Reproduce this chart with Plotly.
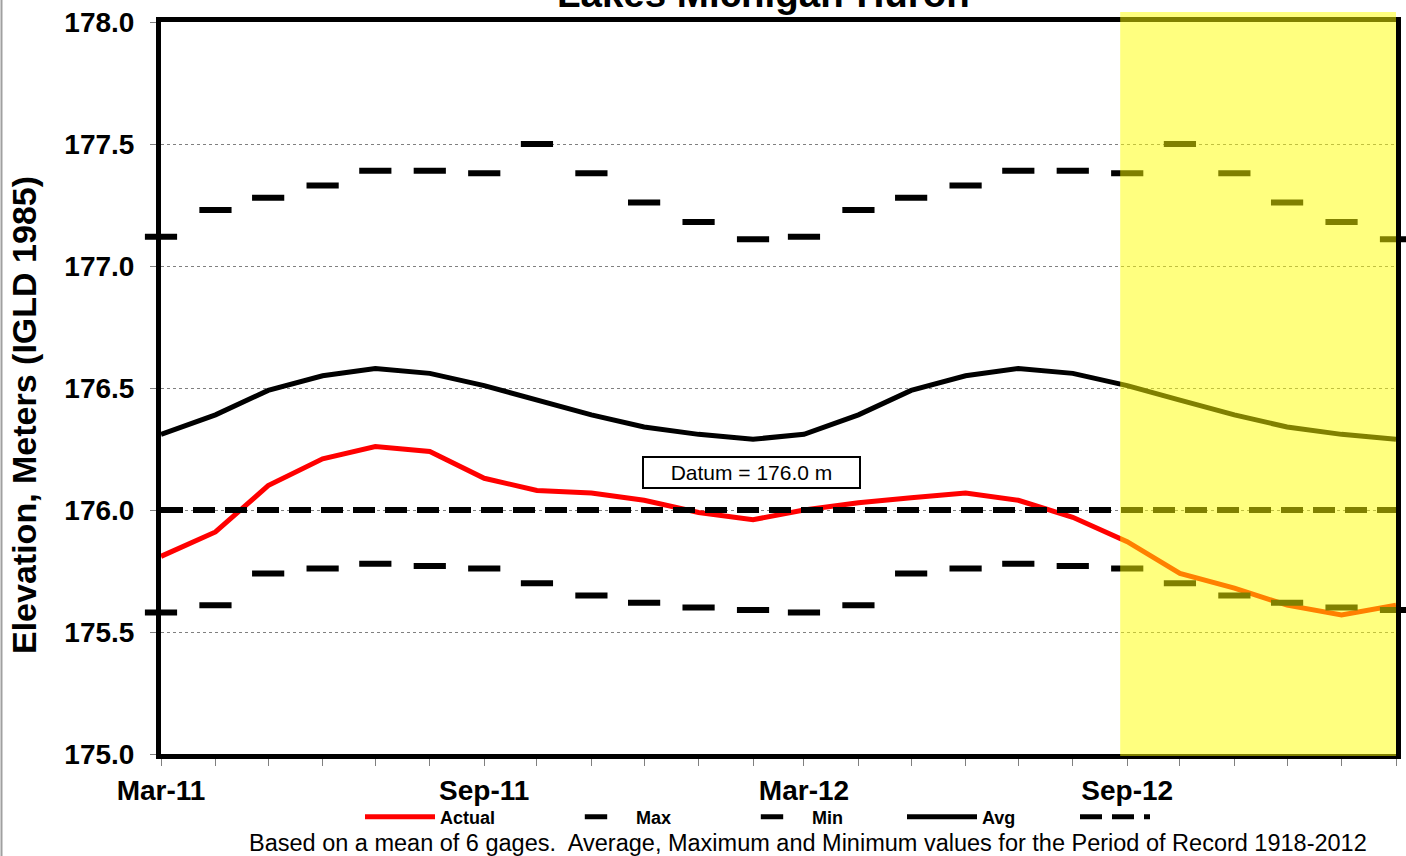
import plotly.graph_objects as go

months = ["2011-03-01", "2011-04-01", "2011-05-01", "2011-06-01", "2011-07-01", "2011-08-01",
          "2011-09-01", "2011-10-01", "2011-11-01", "2011-12-01", "2012-01-01", "2012-02-01",
          "2012-03-01", "2012-04-01", "2012-05-01", "2012-06-01", "2012-07-01", "2012-08-01",
          "2012-09-01", "2012-10-01", "2012-11-01", "2012-12-01", "2013-01-01", "2013-02-01"]

actual = [175.81, 175.91, 176.10, 176.21, 176.26, 176.24, 176.13, 176.08, 176.07, 176.04, 175.99, 175.96,
          176.00, 176.03, 176.05, 176.07, 176.04, 175.97, 175.87, 175.74, 175.68, 175.61, 175.57, 175.61]

max_vals = [177.12, 177.23, 177.28, 177.33, 177.39, 177.39, 177.38, 177.50, 177.38, 177.26, 177.18, 177.11,
            177.12, 177.23, 177.28, 177.33, 177.39, 177.39, 177.38, 177.50, 177.38, 177.26, 177.18, 177.11]

min_vals = [175.58, 175.61, 175.74, 175.76, 175.78, 175.77, 175.76, 175.70, 175.65, 175.62, 175.60, 175.59,
            175.58, 175.61, 175.74, 175.76, 175.78, 175.77, 175.76, 175.70, 175.65, 175.62, 175.60, 175.59]

avg_vals = [176.31, 176.39, 176.49, 176.55, 176.58, 176.56, 176.51, 176.45, 176.39, 176.34, 176.31, 176.29,
            176.31, 176.39, 176.49, 176.55, 176.58, 176.56, 176.51, 176.45, 176.39, 176.34, 176.31, 176.29]

datum_level = 176.0
datum_x = [months[0], months[-1]]
datum_y = [datum_level, datum_level]

forecast_start = "2012-08-28"
forecast_end = "2013-02-01"

title_text = "Lakes Michigan-Huron"
y_title = "Elevation, Meters (IGLD 1985)"
datum_label = "Datum = 176.0 m"
footnote = "Based on a mean of 6 gages.&nbsp; Average, Maximum and Minimum values for the Period of Record 1918-2012"

FONT = "Liberation Sans, Arial, sans-serif"

W, H = 1406, 856
L, R, T, B = 161, 10, 22, 856 - 754
PW = W - L - R
PH = H - T - B


def px_x(px):
    """screen x (pixels) -> paper x"""
    return (px - L) / PW


def px_y(py):
    """screen y (pixels) -> paper y"""
    return (H - B - py) / PH


fig = go.Figure()

fig.add_trace(go.Scatter(x=months, y=actual, mode="lines", name="Actual",
                         line=dict(color="#ff0000", width=5), legend="legend"))
fig.add_trace(go.Scatter(x=months, y=max_vals, mode="markers", name="Max", cliponaxis=False,
                         marker=dict(symbol="line-ew", size=23, color="black",
                                     line=dict(color="black", width=6)), legend="legend2"))
fig.add_trace(go.Scatter(x=months, y=min_vals, mode="markers", name="Min", cliponaxis=False,
                         marker=dict(symbol="line-ew", size=23, color="black",
                                     line=dict(color="black", width=6)), legend="legend3"))
fig.add_trace(go.Scatter(x=months, y=avg_vals, mode="lines", name="Avg",
                         line=dict(color="black", width=5), legend="legend4"))
fig.add_trace(go.Scatter(x=datum_x, y=datum_y, mode="lines", name=" ",
                         line=dict(color="black", width=6, dash="22px,10px"), legend="legend5"))

leg_y = px_y(817)
leg_common = dict(orientation="h", yanchor="middle", y=leg_y, xanchor="left",
                  bgcolor="rgba(0,0,0,0)", borderwidth=0, itemwidth=70,
                  font=dict(family=FONT, size=18, color="black", weight="bold"))

fig.update_layout(
    template="none",
    width=W, height=H,
    margin=dict(l=L, r=R, t=T, b=B, autoexpand=False),
    paper_bgcolor="white", plot_bgcolor="white",
    showlegend=True,
    legend=dict(x=px_x(360), itemsizing="constant", **leg_common),
    legend2=dict(x=px_x(556), itemsizing="trace", **leg_common),
    legend3=dict(x=px_x(732), itemsizing="trace", **leg_common),
    legend4=dict(x=px_x(902), itemsizing="constant", **leg_common),
    legend5=dict(x=px_x(1075), itemsizing="constant", **leg_common),
    xaxis=dict(type="date", range=[months[0], months[-1]], automargin=False,
               tick0=months[0], dtick="M6", tickformat="%b-%y",
               ticks="outside", ticklen=7, tickwidth=1, tickcolor="#808080",
               ticklabelstandoff=0,
               tickfont=dict(family=FONT, size=28, color="black", weight="bold"),
               minor=dict(tick0=months[0], dtick="M1", ticks="outside", ticklen=7,
                          tickwidth=1, tickcolor="#808080", showgrid=False),
               showline=True, linecolor="black", linewidth=5, mirror=True,
               showgrid=False, zeroline=False),
    yaxis=dict(range=[175, 178], dtick=0.5, tick0=175, tickformat=".1f", automargin=False,
               ticks="outside", ticklen=6, tickwidth=1, tickcolor="#808080",
               ticklabelstandoff=10, ticklabeloverflow="allow",
               tickfont=dict(family=FONT, size=28, color="black", weight="bold"),
               showline=True, linecolor="black", linewidth=5, mirror=True,
               showgrid=True, gridcolor="#808080", gridwidth=1, griddash="dot",
               zeroline=False),
    shapes=[
        dict(type="rect", xref="x", yref="paper", x0=forecast_start, x1=forecast_end,
             y0=-2 / PH, y1=1 + 10 / PH, fillcolor="rgba(255,255,0,0.5)",
             line=dict(width=0), layer="above"),
        dict(type="line", xref="paper", yref="paper", x0=px_x(1.5), x1=px_x(1.5),
             y0=px_y(856), y1=px_y(0), line=dict(color="#a0a0a0", width=2)),
    ],
    annotations=[
        dict(text=title_text, xref="paper", yref="paper", x=px_x(763), y=px_y(-6),
             xanchor="center", yanchor="middle", showarrow=False,
             font=dict(family=FONT, size=38.5, color="black", weight="bold")),
        dict(text=y_title, xref="paper", yref="paper", x=px_x(24), y=px_y(415),
             xanchor="center", yanchor="middle", showarrow=False, textangle=-90,
             font=dict(family=FONT, size=34, color="black", weight="bold")),
        dict(text=datum_label, xref="paper", yref="paper", x=px_x(751), y=px_y(472),
             xanchor="center", yanchor="middle", showarrow=False,
             width=211, height=25, borderpad=2, bordercolor="black", borderwidth=2,
             bgcolor="white", font=dict(family=FONT, size=21, color="black")),
        dict(text=footnote, xref="paper", yref="paper", x=px_x(808), y=px_y(843),
             xanchor="center", yanchor="middle", showarrow=False,
             font=dict(family=FONT, size=23.5, color="black")),
    ],
)

fig.write_html("out.html", config={"displayModeBar": False},
               post_script="document.body.style.margin='0';document.body.style.overflow='hidden';")
